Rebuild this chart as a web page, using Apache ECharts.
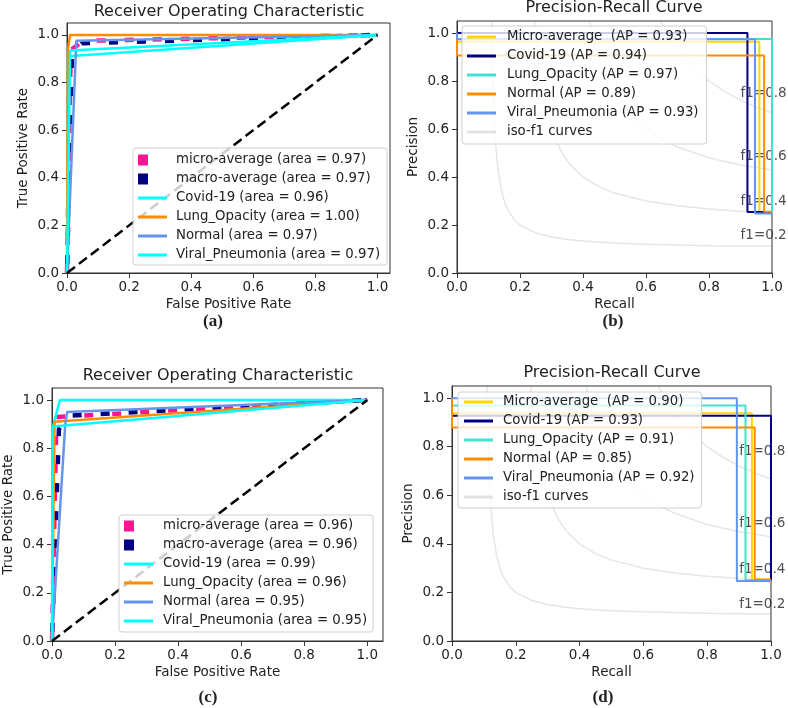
<!DOCTYPE html>
<html><head><meta charset="utf-8">
<script src="https://cdn.jsdelivr.net/npm/echarts@6/dist/echarts.min.js"></script>
<style>html,body{margin:0;padding:0;background:#fff}#c{width:788px;height:708px}</style>
</head><body><div id="c"></div>
<script>
// ---------- tick labels ----------
const tickValues = [0, 0.2, 0.4, 0.6, 0.8, 1.0];
const tickLabels = ['0.0', '0.2', '0.4', '0.6', '0.8', '1.0'];

// ---------- (a) ROC ----------
const rocA_names = ['micro-average (area = 0.97)', 'macro-average (area = 0.97)', 'Covid-19 (area = 0.96)',
  'Lung_Opacity (area = 1.00)', 'Normal (area = 0.97)', 'Viral_Pneumonia (area = 0.97)'];
const rocA_micro = [[0, 0], [0.012, 0.935], [0.05, 0.975], [1, 1]];
const rocA_macro = [[0, 0], [0.016, 0.925], [0.05, 0.965], [1, 1]];
const rocA_covid = [[0, 0], [0.003, 0.91], [1, 1]];
const rocA_lung = [[0, 0], [0.003, 0.94], [0.01, 1.0], [1, 1]];
const rocA_normal = [[0, 0], [0.03, 0.975], [1, 1]];
const rocA_viral = [[0, 0], [0.01, 0.935], [1, 1]];

// ---------- (c) ROC ----------
const rocC_names = ['micro-average (area = 0.96)', 'macro-average (area = 0.96)', 'Covid-19 (area = 0.99)',
  'Lung_Opacity (area = 0.96)', 'Normal (area = 0.95)', 'Viral_Pneumonia (area = 0.95)'];
const rocC_micro = [[0, 0], [0.014, 0.93], [1, 1]];
const rocC_macro = [[0, 0], [0.022, 0.88], [0.05, 0.935], [1, 1]];
const rocC_covid = [[0, 0], [0.005, 0.9], [0.025, 1.0], [1, 1]];
const rocC_lung = [[0, 0], [0.008, 0.91], [1, 1]];
const rocC_normal = [[0, 0], [0.042, 0.9], [0.048, 0.95], [1, 1]];
const rocC_viral = [[0, 0], [0.002, 0.89], [1, 1]];

const chanceLine = [[0, 0], [1, 1]];

// ---------- (b) Precision-Recall: [recall, precision] (step) ----------
const prB_names = ['Micro-average  (AP = 0.93)', 'Covid-19 (AP = 0.94)', 'Lung_Opacity (AP = 0.97)',
  'Normal (AP = 0.89)', 'Viral_Pneumonia (AP = 0.93)', 'iso-f1 curves'];
const prB_micro = [[1, 0.25], [0.96, 0.964], [0, 1]];
const prB_covid = [[1, 0.254], [0.922, 1.0], [0, 1]];
const prB_lung = [[1, 0.25], [1, 0.975], [0, 1]];
const prB_normal = [[1, 0.255], [0.975, 0.906], [0, 1]];
const prB_viral = [[1, 0.248], [0.946, 0.974], [0, 1]];

// ---------- (d) Precision-Recall ----------
const prD_names = ['Micro-average  (AP = 0.90)', 'Covid-19 (AP = 0.93)', 'Lung_Opacity (AP = 0.91)',
  'Normal (AP = 0.85)', 'Viral_Pneumonia (AP = 0.92)', 'iso-f1 curves'];
const prD_micro = [[1, 0.252], [0.94, 0.938], [0, 1]];
const prD_covid = [[1, 0.25], [1, 0.927], [0, 1]];
const prD_lung = [[1, 0.25], [0.92, 0.97], [0, 1]];
const prD_normal = [[1, 0.253], [0.949, 0.879], [0, 1]];
const prD_viral = [[1, 0.247], [0.893, 1.0], [0, 1]];

// ---------- iso-f1 curves ----------
const isoF1_02 = [[0.1105, 1.05], [0.1125, 0.9], [0.115, 0.767], [0.12, 0.6], [0.125, 0.5], [0.13, 0.433], [0.14, 0.35],
  [0.15, 0.3], [0.16, 0.267], [0.18, 0.225], [0.2, 0.2], [0.25, 0.167], [0.3, 0.15], [0.35, 0.14], [0.4, 0.133],
  [0.5, 0.125], [0.6, 0.12], [0.7, 0.117], [0.8, 0.114], [0.9, 0.1125], [1.0, 0.111]];
const isoF1_04 = [[0.247, 1.05], [0.25, 1.0], [0.26, 0.867], [0.27, 0.771], [0.28, 0.7], [0.3, 0.6], [0.33, 0.508],
  [0.36, 0.45], [0.4, 0.4], [0.45, 0.36], [0.5, 0.333], [0.6, 0.3], [0.7, 0.28], [0.8, 0.267], [0.9, 0.257], [1.0, 0.25]];
const isoF1_06 = [[0.42, 1.05], [0.44, 0.943], [0.46, 0.863], [0.5, 0.75], [0.55, 0.66], [0.6, 0.6], [0.65, 0.557],
  [0.7, 0.525], [0.8, 0.48], [0.9, 0.45], [1.0, 0.429]];
const isoF1_08 = [[0.646, 1.05], [0.67, 0.993], [0.7, 0.933], [0.75, 0.857], [0.8, 0.8], [0.85, 0.756], [0.9, 0.72],
  [0.95, 0.691], [1.0, 0.667]];
const isoLabelText = ['f1=0.2', 'f1=0.4', 'f1=0.6', 'f1=0.8'];
const isoLabelB = [[0.9, 0.155], [0.9, 0.297], [0.9, 0.484], [0.9, 0.747]];
const isoLabelD = [[0.9, 0.152], [0.9, 0.295], [0.9, 0.482], [0.9, 0.78]];

// ---------- styling ----------
const FONT = 'DejaVu Sans';
const TXT = '#222';
const AX = '#333';
const TICK_SIZE = 13.5;
const LEG_SIZE = 13.3;
const TITLE_SIZE = 16;
const rocStyles = [
  {color: '#FF1493', width: 4.5, type: [9, 19], dashOffset: 0},
  {color: '#000080', width: 4.5, type: [9, 19], dashOffset: -9},
  {color: '#00FFFF', width: 2.5},
  {color: '#FF8C00', width: 2.5},
  {color: '#6495ED', width: 2.5},
  {color: '#00FFFF', width: 2.5}
];
const prColors = ['#FFD700', '#000080', '#40E0D0', '#FF8C00', '#6495ED', '#e2e2e2'];
const ISO_COLOR = 'rgba(128,128,128,0.2)';
const SQUARE_ICON = 'path://M0,0h10v11h-10zM29,11';
const BAR_ICON = 'path://M0,0h29v3h-29z';

const grids = [
  {left: 67, top: 23, width: 323, height: 250, show: true, borderColor: AX, borderWidth: 1, outerBoundsMode: 'none'},
  {left: 457, top: 21, width: 315, height: 252, show: true, borderColor: AX, borderWidth: 1, outerBoundsMode: 'none'},
  {left: 52, top: 388, width: 331, height: 253, show: true, borderColor: AX, borderWidth: 1, outerBoundsMode: 'none'},
  {left: 452, top: 386, width: 319, height: 255, show: true, borderColor: AX, borderWidth: 1, outerBoundsMode: 'none'}
];

function baseAxis(gi) {
  return {
    gridIndex: gi, type: 'value', min: 0,
    axisLine: {show: true, onZero: false, lineStyle: {color: AX, width: 1}},
    axisTick: {show: true, inside: false, length: 5, lineStyle: {color: AX, width: 1}, customValues: tickValues},
    splitLine: {show: false},
    nameLocation: 'middle',
    nameTextStyle: {fontFamily: FONT, fontSize: TICK_SIZE, color: TXT}
  };
}
function labelCfg(margin) {
  return {show: true, customValues: tickValues, margin: margin,
    formatter: v => tickLabels[Math.round(v * 5)], fontFamily: FONT, fontSize: TICK_SIZE, color: TXT};
}
const xMax = [1.04, 1.0, 1.05, 1.0];
const xNames = ['False Positive Rate', 'Recall', 'False Positive Rate', 'Recall'];
const yNames = ['True Positive Rate', 'Precision', 'True Positive Rate', 'Precision'];
const xAxes = [], yAxes = [];
for (let i = 0; i < 4; i++) {
  xAxes.push(Object.assign(baseAxis(i), {max: xMax[i], name: xNames[i], nameGap: 24, axisLabel: labelCfg(7)}));
  yAxes.push(Object.assign(baseAxis(i), {max: 1.05, name: yNames[i], nameGap: 37, axisLabel: labelCfg(8)}));
}

const series = [];
function addLine(gi, name, data, style, step) {
  const s = {
    type: 'line', name: name, xAxisIndex: gi, yAxisIndex: gi, data: data,
    symbol: 'none', showSymbol: false, silent: true, animation: false,
    lineStyle: Object.assign({}, style), itemStyle: {color: style.color},
    emphasis: {disabled: true}
  };
  if (step) s.step = 'end';
  series.push(s);
}
function addRoc(gi, names, curves) {
  curves.forEach((c, k) => addLine(gi, names[k], c, rocStyles[k]));
  addLine(gi, 'chance', chanceLine, {color: '#000', width: 2.5, type: [10, 5]});
}
function addPr(gi, names, curves, labelPts) {
  [isoF1_02, isoF1_04, isoF1_06, isoF1_08].forEach(c => addLine(gi, 'iso-f1 curves', c, {color: ISO_COLOR, width: 1.5}));
  curves.forEach((c, k) => addLine(gi, names[k], c, {color: prColors[k], width: 2}, true));
  series.push({
    type: 'scatter', name: 'iso-f1 labels', xAxisIndex: gi, yAxisIndex: gi, data: labelPts,
    symbol: 'circle', symbolSize: 0.1, itemStyle: {color: 'rgba(0,0,0,0)'}, silent: true, animation: false,
    label: {show: true, position: 'right', distance: 0, formatter: p => isoLabelText[p.dataIndex],
      fontFamily: FONT, fontSize: TICK_SIZE, color: TXT}
  });
}
addRoc(0, rocA_names, [rocA_micro, rocA_macro, rocA_covid, rocA_lung, rocA_normal, rocA_viral]);
addPr(1, prB_names, [prB_micro, prB_covid, prB_lung, prB_normal, prB_viral], isoLabelB);
addRoc(2, rocC_names, [rocC_micro, rocC_macro, rocC_covid, rocC_lung, rocC_normal, rocC_viral]);
addPr(3, prD_names, [prD_micro, prD_covid, prD_lung, prD_normal, prD_viral], isoLabelD);

function legendCfg(left, top, names, colors, icons, padding, textPad) {
  return {
    orient: 'vertical', left: left, top: top, align: 'left', selectedMode: false,
    itemWidth: 29, itemHeight: 11, itemGap: 5, symbolKeepAspect: true,
    padding: padding, backgroundColor: 'rgba(255,255,255,0.8)', borderColor: '#cfcfcf', borderWidth: 1, borderRadius: 3,
    itemStyle: {borderWidth: 0},
    textStyle: {fontFamily: FONT, fontSize: LEG_SIZE, color: TXT, lineHeight: 14, padding: [0, 0, 0, textPad]},
    data: names.map((n, k) => ({name: n, icon: icons[k], itemStyle: {color: colors[k], borderWidth: 0}}))
  };
}
const rocIcons = [SQUARE_ICON, SQUARE_ICON, BAR_ICON, BAR_ICON, BAR_ICON, BAR_ICON];
const prIcons = [BAR_ICON, BAR_ICON, BAR_ICON, BAR_ICON, BAR_ICON, BAR_ICON];
const rocColors = rocStyles.map(s => s.color);
const legends = [
  legendCfg(133, 148, rocA_names, rocColors, rocIcons, [5, 7, 3, 5], 4),
  legendCfg(462, 26, prB_names, prColors, prIcons, [4, 8, 5, 5], 6),
  legendCfg(119, 515, rocC_names, rocColors, rocIcons, [4, 6, 4, 5], 5),
  legendCfg(458, 392, prD_names, prColors, prIcons, [3, 7, 4, 6], 5)
];

function title(text, x, y, size, family, weight) {
  return {text: text, left: x, top: y, padding: 0, textAlign: 'center', textVerticalAlign: 'middle',
    textStyle: {fontFamily: family, fontSize: size, fontWeight: weight, color: TXT}};
}
const titles = [
  title('Receiver Operating Characteristic', 229, 12, TITLE_SIZE, FONT, 'normal'),
  title('Precision-Recall Curve', 614, 8, TITLE_SIZE, FONT, 'normal'),
  title('Receiver Operating Characteristic', 218, 376, TITLE_SIZE, FONT, 'normal'),
  title('Precision-Recall Curve', 612, 373, TITLE_SIZE, FONT, 'normal'),
  title('(a)', 213, 322, 17, 'Liberation Serif', 'bold'),
  title('(b)', 613, 322, 17, 'Liberation Serif', 'bold'),
  title('(c)', 208, 698, 17, 'Liberation Serif', 'bold'),
  title('(d)', 603, 698, 17, 'Liberation Serif', 'bold')
];

const chart = echarts.init(document.getElementById('c'), null, {renderer: 'canvas', width: 788, height: 708});
chart.setOption({
  animation: false,
  backgroundColor: '#fff',
  textStyle: {fontFamily: FONT},
  title: titles,
  grid: grids,
  xAxis: xAxes,
  yAxis: yAxes,
  legend: legends,
  series: series
});
</script></body></html>
